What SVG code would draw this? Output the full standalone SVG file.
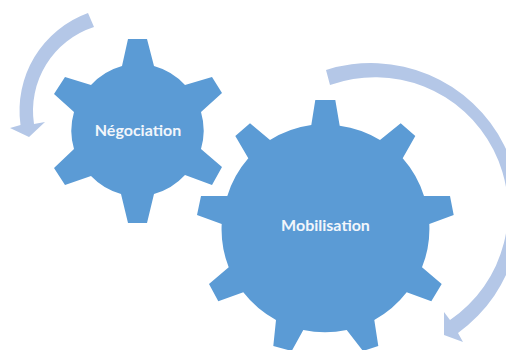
<svg xmlns="http://www.w3.org/2000/svg" width="506" height="350" viewBox="0 0 506 350">
<style>
.gear{fill:#5b9bd5}
.arrow{fill:#b4c7e7}
.label{font-family:"Lato","Liberation Sans",sans-serif;font-weight:700;font-size:16px;fill:#f2f6fb;text-anchor:middle}
</style>
<rect width="506" height="350" fill="#fff"/>
<g id="connectors">
<path id="arrow-negociation" class="arrow" d="M88 13 A104 104 0 0 0 20.500 125 L10 128 L29 137 L45 122 L34 124 A88 88 0 0 1 94 27 Z"/>
<path id="arrow-mobilisation" class="arrow" d="M326 70 A149 149 0 0 1 458 333 L463 342 L444 335 L444 312 L450 320 A133 133 0 0 0 330 85 Z"/>
</g>
<g id="negociation">
<path class="gear" d="M122 66 L128 39 H147 L154 66 A66 66 0 0 1 185 85 L212 77 L222 93 L201 112 A66 66 0 0 1 201 149 L222 167 L212 185 L185 175 A66 66 0 0 1 154 194 L147 223 H128 L121 194 A66 66 0 0 1 91 176 L65 185 L54 168 L74 149 A66 66 0 0 1 74 112 L54 94 L65 77 L91 85 A66 66 0 0 1 122 66 Z"/>
<text class="label" x="138" y="136">Négociation</text>
</g>
<g id="mobilisation">
<path class="gear" d="M311.300 125 L315.300 100 H335.300 L339.700 125.700 A104 104 0 0 1 380 140 L400.700 123.300 L415.300 136 L402.700 158.300 A104 104 0 0 1 424 196 H450 L453.700 215 L429.300 224 A104 104 0 0 1 422 267.300 L441.700 284 L431.300 301.300 L406.700 292.300 A104 104 0 0 1 374.300 320 L378.300 346 L363 351 L346.700 330 A104 104 0 0 1 303.300 330 L291.700 351 L273.300 346 L276 320 A104 104 0 0 1 243.300 292.300 L218.300 301.300 L209 284 L228.700 267.300 A104 104 0 0 1 221.700 224 L197 215 L201 196 H227.300 A104 104 0 0 1 248.300 158.300 L235.300 136 L250 123.300 L270 140 A104 104 0 0 1 311.300 125 Z"/>
<text class="label" x="325.500" y="231">Mobilisation</text>
</g>
</svg>
